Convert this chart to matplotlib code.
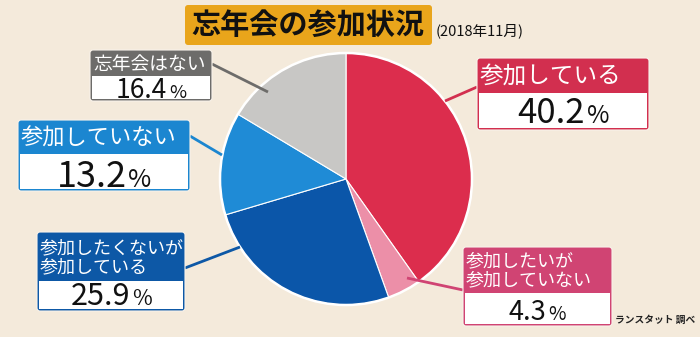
import matplotlib.pyplot as plt
from matplotlib.patches import FancyBboxPatch, Rectangle

plt.rcParams['font.family'] = ['Noto Sans CJK JP', 'DejaVu Sans']

W, H = 700, 337

labels = ['参加している', '参加したいが\n参加していない', '参加したくないが\n参加している',
          '参加していない', '忘年会はない']
shares = [40.2, 4.3, 25.9, 13.2, 16.4]
slice_colors = ['#dc2d4d', '#ec8fa8', '#0b56a9', '#1f8bd6', '#c8c7c5']
box_colors = ['#d22f4f', '#d04473', '#0d58a6', '#1b86d0', '#6d6c6a']
title = '忘年会の参加状況'
subtitle = '(2018年11月)'
source = 'ランスタット 調べ'

# label boxes in pixel coords (top-left origin): x0, x1, y0, y_split, y1
boxes = [
    (477, 649, 58, 93, 130),
    (463, 612, 247, 293, 326),
    (37, 185, 232, 281, 311),
    (18, 190, 120, 154, 191),
    (90, 212, 50, 76, 101),
]
head_size = [17, 13, 13, 16, 13.5]
value_size = [25, 19.5, 22, 26, 19]
base_gap = [7, 6, 6, 4, 3]
# leader lines: (box side point, point inside the pie)
leaders = [
    ((477, 87), (445, 101)),
    ((463, 290), (407, 278)),
    ((185, 268), (240, 247)),
    ((190, 136), (222, 155)),
    ((212, 64), (268, 92)),
]

pie_cx, pie_cy, pie_r = 346, 179, 126


def Y(y):
    return H - y


fig = plt.figure(figsize=(W / 100, H / 100), dpi=100)
fig.patch.set_facecolor('#f4eadb')
ax = fig.add_axes([0, 0, 1, 1])

ax.pie(shares, colors=slice_colors, startangle=90, counterclock=False,
       center=(pie_cx, Y(pie_cy)), radius=pie_r, frame=True,
       wedgeprops=dict(edgecolor='white', linewidth=0.8))
ax.add_patch(plt.Circle((pie_cx, Y(pie_cy)), pie_r, fill=False,
                        edgecolor='white', linewidth=1.8, zorder=3))
ax.set_xlim(0, W)
ax.set_ylim(0, H)
ax.set_aspect('equal')
ax.axis('off')

# title banner
ax.add_patch(FancyBboxPatch((185, Y(45)), 247, 40,
                            boxstyle='round,pad=0,rounding_size=3',
                            facecolor='#e9a51b', edgecolor='none'))
ax.text(308, Y(25), title, fontsize=21, fontweight='bold', color='#111111',
        ha='center', va='center')
ax.text(436, Y(31), subtitle, fontsize=10.5, color='#111111', ha='left', va='center')
ax.text(695, Y(320), source, fontsize=7, color='#222222', ha='right',
        va='center', fontweight='bold')

renderer = fig.canvas.get_renderer()

for (x0, x1, y0, ys, y1), lab, val, col, hs, vs, gap, (p_box, p_pie) in zip(
        boxes, labels, shares, box_colors, head_size, value_size, base_gap, leaders):
    ax.plot([p_box[0], p_pie[0]], [Y(p_box[1]), Y(p_pie[1])], color=col,
            linewidth=2, solid_capstyle='butt', zorder=4)
    ax.add_patch(FancyBboxPatch((x0, Y(y1)), x1 - x0, y1 - y0,
                                boxstyle='round,pad=0,rounding_size=3',
                                facecolor=col, edgecolor='#f8f2ea', linewidth=0.8,
                                zorder=5))
    ax.add_patch(Rectangle((x0 + 2, Y(y1 - 2)), x1 - x0 - 4, y1 - ys - 2,
                           facecolor='white', edgecolor='none', zorder=6))
    ax.text(x0 + 3, Y((y0 + ys) / 2 + 1), lab, fontsize=hs, color='white',
            ha='left', va='center', linespacing=1.05, zorder=7)
    # value with a smaller percent sign, centred in the white band
    cx, base = (x0 + x1) / 2, Y(y1 - gap)
    t_num = ax.text(0, base, f'{val:.1f}', fontsize=vs, color='#111111',
                    ha='left', va='baseline', zorder=7)
    t_pct = ax.text(0, base, '%', fontsize=vs * 0.7, color='#111111',
                    ha='left', va='baseline', zorder=7)
    w_num = t_num.get_window_extent(renderer).width
    w_pct = t_pct.get_window_extent(renderer).width
    start = cx - (w_num + w_pct + 2) / 2
    t_num.set_x(start)
    t_pct.set_x(start + w_num + 2)

fig.savefig('out.png', dpi=100, facecolor=fig.get_facecolor())
